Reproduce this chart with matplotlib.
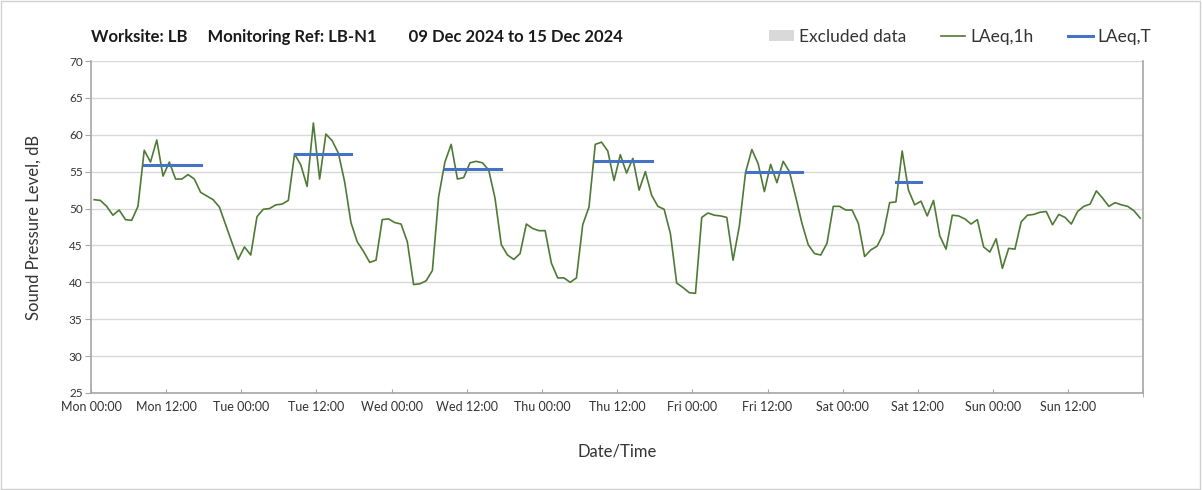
import numpy as np
import matplotlib.pyplot as plt
from matplotlib.patches import Patch
from matplotlib.lines import Line2D

plt.rcParams['font.family'] = ['Lato', 'DejaVu Sans']

# hourly LAeq,1h readings, Mon 09 Dec 00:00 .. Sun 15 Dec 23:00
mon = [51.2, 51.1, 50.3, 49.1, 49.8, 48.5, 48.4, 50.3, 57.9, 56.3, 59.3, 54.4,
       56.3, 54.0, 54.0, 54.6, 54.0, 52.2, 51.7, 51.2, 50.2, 47.8, 45.4, 43.1]
tue = [44.8, 43.7, 48.9, 49.9, 50.0, 50.5, 50.6, 51.1, 57.4, 55.9, 53.0, 61.6,
       54.0, 60.1, 59.2, 57.5, 53.6, 48.1, 45.5, 44.2, 42.7, 43.0, 48.5, 48.6]
wed = [48.1, 47.9, 45.5, 39.7, 39.8, 40.2, 41.6, 51.6, 56.3, 58.7, 54.0, 54.2,
       56.2, 56.4, 56.2, 55.2, 51.4, 45.1, 43.7, 43.1, 43.9, 47.9, 47.3, 47.0]
thu = [47.0, 42.6, 40.6, 40.6, 40.0, 40.6, 47.8, 50.2, 58.7, 59.0, 57.8, 53.8,
       57.3, 54.8, 56.8, 52.5, 55.0, 51.8, 50.3, 49.9, 46.6, 39.9, 39.3, 38.6]
fri = [38.5, 48.8, 49.4, 49.1, 49.0, 48.8, 43.0, 47.6, 54.9, 58.0, 56.1, 52.3,
       56.0, 53.5, 56.4, 55.0, 51.6, 48.0, 45.1, 43.9, 43.7, 45.3, 50.3, 50.3]
sat = [49.8, 49.8, 48.0, 43.5, 44.4, 44.9, 46.6, 50.8, 50.9, 57.8, 52.5, 50.5,
       51.0, 49.0, 51.1, 46.3, 44.5, 49.1, 49.0, 48.6, 47.9, 48.5, 44.8, 44.1]
sun = [45.9, 41.9, 44.6, 44.5, 48.2, 49.1, 49.2, 49.5, 49.6, 47.8, 49.2, 48.8,
       47.9, 49.6, 50.3, 50.6, 52.4, 51.4, 50.3, 50.8, 50.5, 50.3, 49.7, 48.7]
laeq_1h = mon + tue + wed + thu + fri + sat + sun

# LAeq,T for each working period: (day index, start hour, end hour, level)
laeq_t_days = [0, 1, 2, 3, 4, 5]
laeq_t_start = [8, 8, 8, 8, 8, 8]
laeq_t_end = [17, 17, 17, 17, 17, 12]
laeq_t_level = [55.9, 57.4, 55.3, 56.4, 54.9, 53.6]

day_names = ['Mon', 'Tue', 'Wed', 'Thu', 'Fri', 'Sat', 'Sun']

green = '#4e7a35'
blue = '#4472c4'
grid_c = '#d9d9d9'
axis_c = '#a6a6a6'

fig = plt.figure(figsize=(12.02, 4.9), dpi=100)
ax = fig.add_axes([0.0757, 0.198, 0.8755, 0.6775])

hours = np.arange(len(laeq_1h)) + 0.5
ax.plot(hours, laeq_1h, color=green, lw=1.2, zorder=3)

for d, s, e, v in zip(laeq_t_days, laeq_t_start, laeq_t_end, laeq_t_level):
    xs = np.arange(s, e + 1) + 24 * d + 0.5
    ax.plot(xs, [v] * len(xs), color=blue, lw=2.2, zorder=4)

ax.set_xlim(0, 168)
ax.set_ylim(25, 70)
ax.set_yticks(np.arange(25, 71, 5))
ax.set_xticks(np.arange(0, 168, 12))
ax.set_xticklabels(['%s %s' % (day_names[i // 2], '00:00' if i % 2 == 0 else '12:00')
                    for i in range(14)])
ax.set_xticks(np.arange(0, 169, 24), minor=True)

ax.grid(axis='y', color=grid_c, lw=1)
ax.grid(axis='x', which='minor', color=grid_c, lw=1)
ax.set_axisbelow(True)

for sp in ['left', 'bottom', 'right']:
    ax.spines[sp].set_color(axis_c)
    ax.spines[sp].set_linewidth(1.2)
ax.spines['top'].set_visible(False)

ax.tick_params(axis='y', which='major', direction='out', length=4, color=axis_c,
               labelsize=8.5, pad=2, labelcolor='#333333')
ax.tick_params(axis='x', which='major', direction='in', length=3, color=axis_c,
               labelsize=9, pad=6, labelcolor='#333333')
ax.tick_params(axis='x', which='minor', direction='inout', length=6, color=axis_c)

ax.set_ylabel('Sound Pressure Level, dB', fontsize=12, color='#333333', labelpad=20)
ax.set_xlabel('Date/Time', fontsize=12, color='#333333', labelpad=22)

fig.text(0.0757, 0.925, 'Worksite: LB     Monitoring Ref: LB-N1        09 Dec 2024 to 15 Dec 2024',
         fontsize=12, fontweight='bold', color='#1a1a1a', va='center')

handles = [Patch(facecolor='#d9d9d9', edgecolor='none'),
           Line2D([], [], color=green, lw=1.2),
           Line2D([], [], color=blue, lw=2.2)]
fig.legend(handles, ['Excluded data', 'LAeq,1h', 'LAeq,T'], loc='center right',
           bbox_to_anchor=(0.971, 0.925), ncol=3, frameon=False, fontsize=12.5,
           handlelength=1.4, handleheight=0.6, columnspacing=2.0, handletextpad=0.3,
           labelcolor='#333333')

fig.patches.append(plt.Rectangle((0.001, 0.002), 0.997, 0.995, transform=fig.transFigure,
                                 fill=False, edgecolor='#d0d0d0', lw=1))

fig.savefig('out.png', dpi=100)
